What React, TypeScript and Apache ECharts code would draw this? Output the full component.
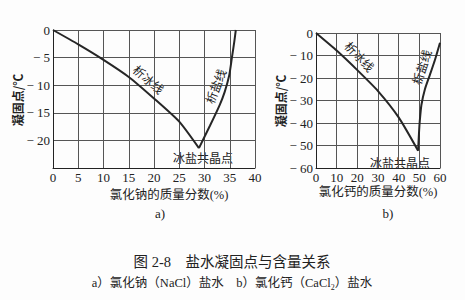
import React, { useEffect, useRef } from 'react';
import * as echarts from 'echarts';

// Chart a) NaCl brine
const iceNaCl: number[][] = [[0, 0], [5, -2.6], [10, -5.4], [15, -8.5], [20, -12.4], [25, -16.6], [28.9, -21.4]];
const saltNaCl: number[][] = [[28.9, -21.4], [31.1, -17.3], [33, -13.6], [34, -11.2], [34.9, -8.2], [35.4, -5.2], [35.9, -2.1], [36.2, 0]];
// Chart b) CaCl2 brine
const iceCaCl2: number[][] = [[0, 0], [10, -7.8], [20, -16.5], [30, -25.8], [40, -37.5], [49.4, -52.3]];
const saltCaCl2: number[][] = [[49.4, -52.3], [49.8, -45], [50.2, -39.3], [51, -32], [52.7, -25], [55.1, -18.6], [57.5, -12.1], [60, -4.3]];

const xRangeA = [0, 40, 5];
const yRangeA = [-25, 0, 5];
const xRangeB = [0, 60, 10];
const yRangeB = [-60, 0, 10];

const FONT = "'Liberation Serif', 'Noto Sans CJK SC', serif";
const CJK = "'Noto Sans CJK SC', sans-serif";
const INK = '#222';
const GRID = '#555';

const yFmt = (hideMin: number | null) => (v: number) => {
  if (hideMin !== null && v === hideMin) return '';
  if (v === 0) return '0';
  return '\u2212 ' + Math.abs(v);
};

export default function App() {
  const ref = useRef<HTMLDivElement>(null);
  useEffect(() => {
    if (!ref.current) return;
    const chart = echarts.init(ref.current, undefined, { renderer: 'svg' });
    const axisCommon = {
      type: 'value' as const,
      axisLine: { show: true, onZero: false, lineStyle: { color: INK, width: 1 } },
      axisTick: { show: false },
      splitLine: { show: true, lineStyle: { color: GRID, width: 1 } },
      axisLabel: { color: INK, fontFamily: FONT, fontSize: 13 },
    };
    const lineCommon = {
      type: 'line' as const,
      showSymbol: false,
      symbol: 'none',
      smooth: 0.2,
      lineStyle: { color: '#262626', width: 2 },
      silent: true,
    };
    const txt = (text: string, x: number, y: number, fontSize: number, rotation = 0, font = CJK, extra: any = {}) => ({
      type: 'text',
      x,
      y,
      rotation,
      style: { text, fill: INK, fontSize, fontFamily: font, textAlign: 'center', textVerticalAlign: 'middle', ...extra },
    });
    chart.setOption({
      animation: false,
      backgroundColor: '#fdfdfd',
      grid: [
        { left: 53, right: 210, top: 30, bottom: 132, containLabel: false },
        { left: 316, right: 25, top: 33, bottom: 132, containLabel: false },
      ],
      xAxis: [
        { ...axisCommon, gridIndex: 0, min: xRangeA[0], max: xRangeA[1], interval: xRangeA[2], axisLabel: { ...axisCommon.axisLabel, margin: 3 } },
        { ...axisCommon, gridIndex: 1, min: xRangeB[0], max: xRangeB[1], interval: xRangeB[2], axisLabel: { ...axisCommon.axisLabel, margin: 3 } },
      ],
      yAxis: [
        { ...axisCommon, gridIndex: 0, min: yRangeA[0], max: yRangeA[1], interval: yRangeA[2], axisLabel: { ...axisCommon.axisLabel, margin: 3, formatter: yFmt(-25) } },
        { ...axisCommon, gridIndex: 1, min: yRangeB[0], max: yRangeB[1], interval: yRangeB[2], axisLabel: { ...axisCommon.axisLabel, margin: 3, formatter: yFmt(null) } },
      ],
      series: [
        { ...lineCommon, xAxisIndex: 0, yAxisIndex: 0, data: iceNaCl },
        { ...lineCommon, xAxisIndex: 0, yAxisIndex: 0, data: saltNaCl },
        { ...lineCommon, xAxisIndex: 1, yAxisIndex: 1, data: iceCaCl2 },
        { ...lineCommon, xAxisIndex: 1, yAxisIndex: 1, data: saltCaCl2 },
      ],
      graphic: [
        // chart a
        txt('析冰线', 149, 79, 12, -0.72),
        txt('析盐线', 215, 86, 12, 1.2),
        txt('冰盐共晶点', 203, 157, 12),
        txt('凝固点/℃', 17, 100, 12, Math.PI / 2, CJK, { fontWeight: 'bold' }),
        txt('氯化钠的质量分数(%)', 169, 195, 12.5, 0, FONT),
        txt('a)', 160, 213, 13, 0, FONT),
        // chart b
        txt('析冰线', 360, 56, 12, -0.8),
        txt('析盐线', 421, 67, 12, 1.25),
        txt('冰盐共晶点', 400, 162, 12),
        txt('凝固点/℃', 280, 101, 12, Math.PI / 2, CJK, { fontWeight: 'bold' }),
        txt('氯化钙的质量分数(%)', 378, 192, 12.5, 0, FONT),
        txt('b)', 388, 213, 13, 0, FONT),
        // caption
        txt('图 2-8　盐水凝固点与含量关系', 232, 262, 14.5, 0, FONT),
        {
          type: 'text',
          x: 232,
          y: 283,
          style: {
            text: '{m|a）氯化钠（NaCl）盐水　b）氯化钙（CaCl}{s|2}{m|）盐水}',
            textAlign: 'center',
            textVerticalAlign: 'middle',
            fill: INK,
            rich: {
              m: { fontFamily: FONT, fontSize: 12.5, lineHeight: 16, fill: INK, verticalAlign: 'middle' },
              s: { fontFamily: FONT, fontSize: 8, lineHeight: 16, fill: INK, verticalAlign: 'bottom', padding: [8, 0, 0, 0] },
            },
          },
        },
      ],
    });
    return () => chart.dispose();
  }, []);
  return <div ref={ref} style={{ width: 465, height: 300, position: 'absolute', left: 0, top: 0 }} />;
}
